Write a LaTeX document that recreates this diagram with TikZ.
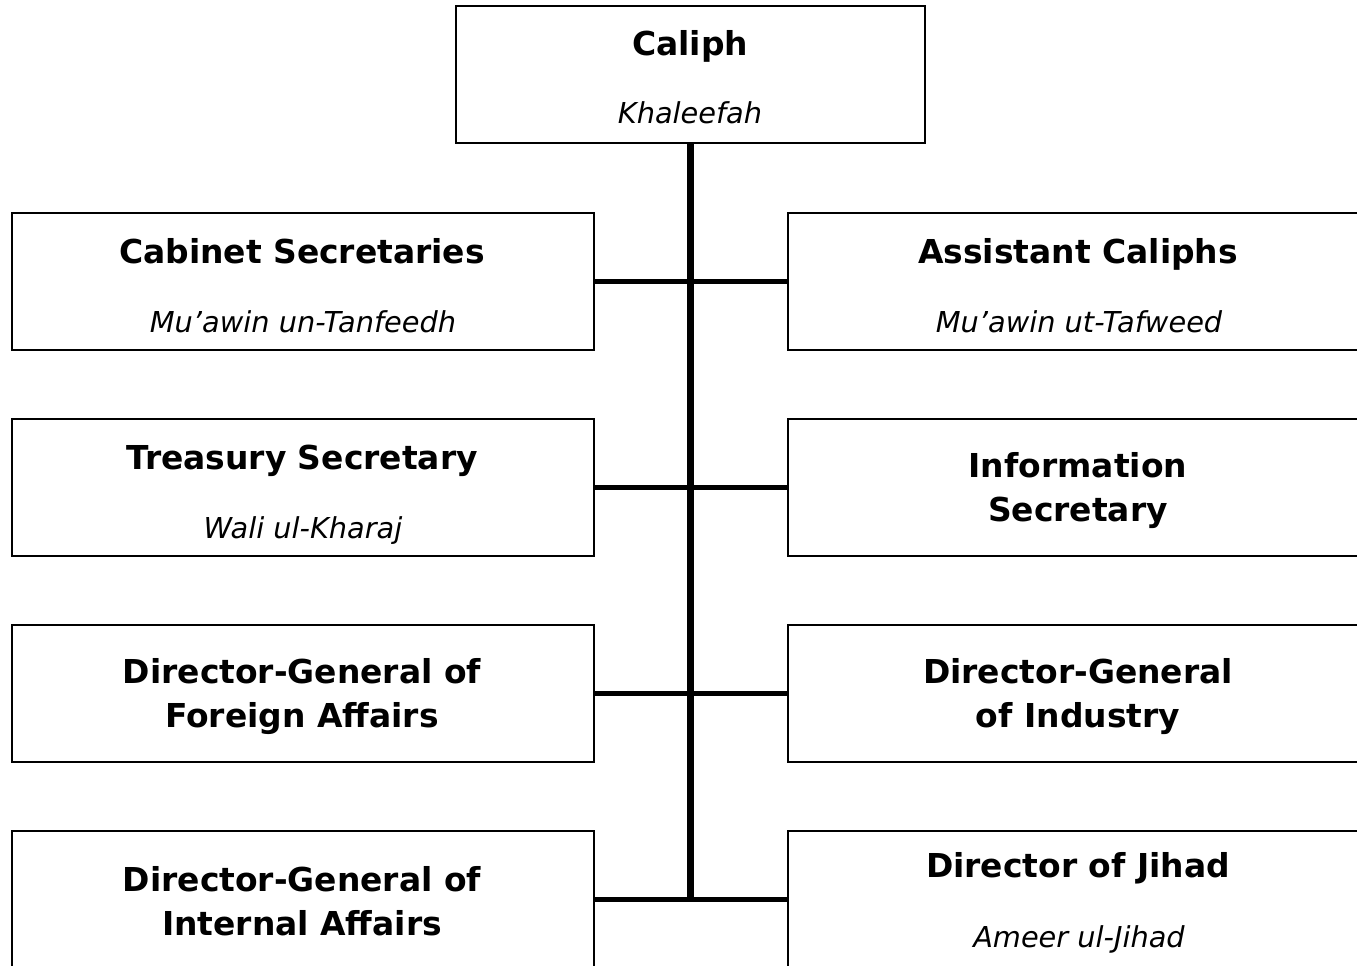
\documentclass[tikz,border=0pt]{standalone}
\usepackage{fontspec}
\setmainfont{DejaVu Sans}
\begin{document}
\begin{tikzpicture}[x=0.75pt,y=-0.75pt,
  wide/.style={draw=black, line width=1.6pt, minimum width=436.5pt, minimum height=102.75pt, inner sep=0pt, anchor=north west},
  topbox/.style={draw=black, line width=1.6pt, minimum width=351.75pt, minimum height=102.75pt, inner sep=0pt, anchor=north west},
  ttl/.style={anchor=base, inner sep=0pt, font=\bfseries\fontsize{24.7}{29}\selectfont},
  sub/.style={anchor=base, inner sep=0pt, font=\itshape\fontsize{21.6}{25}\selectfont},
  trunk/.style={line width=5.6pt},
  branch/.style={line width=3.5pt}]
\useasboundingbox (0,0) rectangle (1357,965);
\clip (0,0) rectangle (1357,965);
% boxes
\node[topbox] (top) at (455,5) {};
\node[wide] (L1) at (11,212) {};
\node[wide] (R1) at (787,212) {};
\node[wide] (L2) at (11,418) {};
\node[wide] (R2) at (787,418) {};
\node[wide] (L3) at (11,624) {};
\node[wide] (R3) at (787,624) {};
\node[wide] (L4) at (11,830) {};
\node[wide] (R4) at (787,830) {};
% texts
\node[ttl] (tTop) at (690,55) {Caliph};
\node[sub] (sTop) at (690,123) {Khaleefah};
\node[ttl] (tL1) at (302,263) {Cabinet Secretaries};
\node[sub] (sL1) at (303,332) {Mu’awin un-Tanfeedh};
\node[ttl] (tR1) at (1078,263) {Assistant Caliphs};
\node[sub] (sR1) at (1079,332) {Mu’awin ut-Tafweed};
\node[ttl] (tL2) at (302,469) {Treasury Secretary};
\node[sub] (sL2) at (303,538) {Wali ul-Kharaj};
\node[ttl] (tR2a) at (1078,477) {Information};
\node[ttl] (tR2b) at (1078,521) {Secretary};
\node[ttl] (tL3a) at (302,683) {Director-General of};
\node[ttl] (tL3b) at (302,727) {Foreign Affairs};
\node[ttl] (tR3a) at (1078,683) {Director-General};
\node[ttl] (tR3b) at (1078,727) {of Industry};
\node[ttl] (tL4a) at (302,891) {Director-General of};
\node[ttl] (tL4b) at (302,935) {Internal Affairs};
\node[ttl] (tR4) at (1078,877) {Director of Jihad};
\node[sub] (sR4) at (1079,947) {Ameer ul-Jihad};
% connectors
\coordinate (bot) at (top.south |- L4.east);
\draw[trunk] (top.south) -- (bot);
\draw[branch] (L1.east) -- (R1.west);
\draw[branch] (L2.east) -- (R2.west);
\draw[branch] (L3.east) -- (R3.west);
\draw[branch] (L4.east) -- (R4.west);
\end{tikzpicture}
\end{document}
